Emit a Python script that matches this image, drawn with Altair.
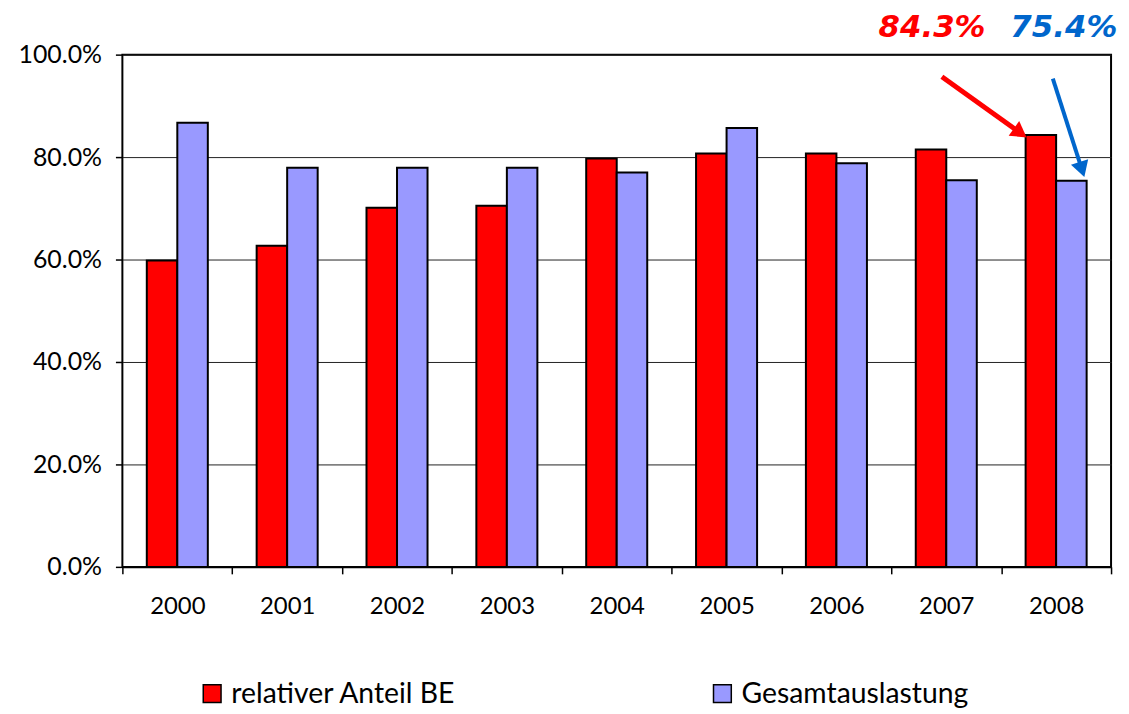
import math
import altair as alt
import pandas as pd

years = ["2000", "2001", "2002", "2003", "2004", "2005", "2006", "2007", "2008"]
anteil_be = [59.8, 62.7, 70.1, 70.5, 79.7, 80.7, 80.7, 81.5, 84.3]
gesamt = [86.7, 77.9, 77.9, 77.9, 77.0, 85.7, 78.8, 75.5, 75.4]
series_names = ["relativer Anteil BE", "Gesamtauslastung"]
series_colors = ["#FF0000", "#9999FF"]
y_ticks = [0, 20, 40, 60, 80, 100]

# annotation (positions in year-index units / percent)
red_label = "84.3%"
blue_label = "75.4%"
red_arrow = {"x": [7.46, 8.24], "y": [95.7, 83.7]}
blue_arrow = {"x": [8.47, 8.76], "y": [95.3, 75.9]}
red_text_pos = (7.37, 105.2)
blue_text_pos = (8.57, 105.2)

W, H = 994, 515
px_x = W / len(years)
px_y = H / 100.0

rows = []
for i, yr in enumerate(years):
    rows.append({"year": yr, "series": series_names[0], "value": anteil_be[i]})
    rows.append({"year": yr, "series": series_names[1], "value": gesamt[i]})
df = pd.DataFrame(rows)

yscale = alt.Scale(domain=[0, 100], nice=False)
xq = alt.Scale(domain=[0, len(years)], nice=False, zero=False)
yaxis = alt.Axis(values=y_ticks,
                 labelExpr="format(datum.value, '.1f') + '%'",
                 labelFont="Lato", labelFontSize=25, labelColor="black",
                 labelPadding=14, tickSize=7, tickColor="black", tickWidth=1.5,
                 grid=True, gridColor="#222", gridWidth=1, domain=False, title=None)

bars = alt.Chart(df).mark_bar(stroke="black", strokeWidth=2).encode(
    x=alt.X("year:N", sort=years, title=None,
            scale=alt.Scale(paddingInner=0, paddingOuter=0),
            axis=alt.Axis(labelAngle=0, tickBand="extent", labelFont="Lato",
                          labelFontSize=24, labelColor="black", labelPadding=21,
                          tickSize=7, tickColor="black", tickWidth=1.5,
                          domainColor="black", domainWidth=2, grid=False)),
    xOffset=alt.XOffset("series:N", sort=series_names,
                        scale=alt.Scale(paddingInner=0, paddingOuter=0.8)),
    y=alt.Y("value:Q", scale=yscale, title=None, axis=yaxis),
    color=alt.Color("series:N", sort=series_names,
                    scale=alt.Scale(domain=series_names, range=series_colors),
                    legend=alt.Legend(title=None, orient="none", direction="horizontal",
                                      legendX=76, legendY=628,
                                      symbolType="square",
                                      symbolSize=320, symbolStrokeColor="black",
                                      symbolStrokeWidth=1.5, symbolOpacity=1,
                                      labelFont="Lato", labelFontSize=28.5,
                                      labelColor="black", labelOffset=5,
                                      columnPadding=253, labelLimit=400)),
)


def arrow_layers(arrow, color, width):
    xs, ys = arrow["x"], arrow["y"]
    dx = (xs[1] - xs[0]) * px_x
    dy = (ys[0] - ys[1]) * px_y  # screen down
    angle = math.degrees(math.atan2(dx, -dy)) % 360
    L = math.hypot(dx, dy)
    back = 9.0 / L
    hx = xs[1] - (xs[1] - xs[0]) * back
    hy = ys[1] - (ys[1] - ys[0]) * back
    shaft_end_x = xs[1] - (xs[1] - xs[0]) * (14.0 / L)
    shaft_end_y = ys[1] - (ys[1] - ys[0]) * (14.0 / L)
    line_df = pd.DataFrame({"x": [xs[0], shaft_end_x], "y": [ys[0], shaft_end_y]})
    head_df = pd.DataFrame({"x": [hx], "y": [hy]})
    line = alt.Chart(line_df).mark_line(color=color, strokeWidth=width).encode(
        x=alt.X("x:Q", scale=xq, axis=None),
        y=alt.Y("y:Q", scale=yscale, axis=yaxis),
    )
    head = alt.Chart(head_df).mark_point(shape="triangle-up", filled=True, color=color,
                                         opacity=1, size=330, angle=angle).encode(
        x=alt.X("x:Q", scale=xq, axis=None),
        y=alt.Y("y:Q", scale=yscale, axis=yaxis),
    )
    return [line, head]


def text_layer(label, pos, color):
    tdf = pd.DataFrame({"x": [pos[0]], "y": [pos[1]], "t": [label]})
    return alt.Chart(tdf).mark_text(font="DejaVu Sans", fontSize=31, fontWeight="bold",
                                    fontStyle="italic", color=color, baseline="middle",
                                    align="center").encode(
        x=alt.X("x:Q", scale=xq, axis=None),
        y=alt.Y("y:Q", scale=yscale, axis=yaxis),
        text="t:N",
    )


layers = [bars]
layers += arrow_layers(red_arrow, "#FF0000", 5)
layers += arrow_layers(blue_arrow, "#0066CC", 4)
layers.append(text_layer(red_label, red_text_pos, "#FF0000"))
layers.append(text_layer(blue_label, blue_text_pos, "#0066CC"))

chart = alt.layer(*layers).resolve_scale(x="independent").properties(
    width=W, height=H,
    autosize=alt.AutoSizeParams(type="none"),
    padding={"left": 115, "top": 45, "right": 10, "bottom": 140},
).configure(background="white",
            view=alt.ViewConfig(stroke="black", strokeWidth=2))

chart.save("out.html", embed_options={"renderer": "svg", "actions": False})
